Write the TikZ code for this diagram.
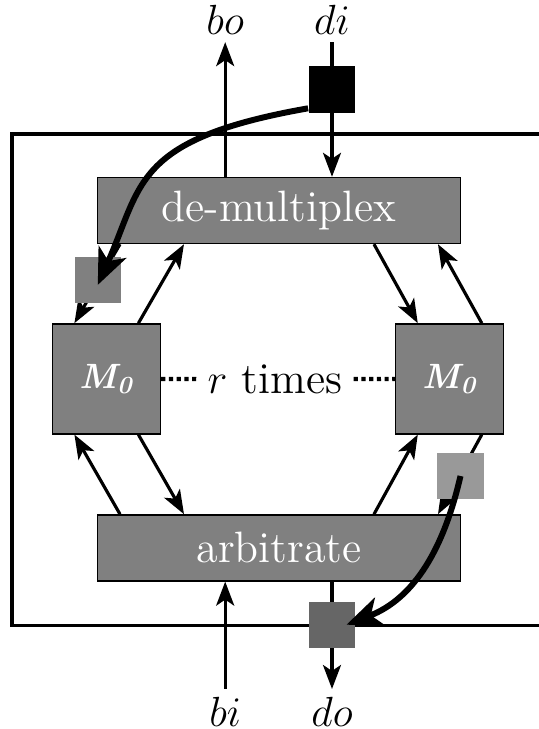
\documentclass[tikz,border=0pt]{standalone}
\usetikzlibrary{arrows.meta,calc,positioning}
\definecolor{blockFill}{HTML}{808080}
\definecolor{tokLight} {HTML}{999999}
\definecolor{tokDark}  {HTML}{666666}

\begin{document}
\begin{tikzpicture}[
        every node/.style={font=\fontsize{12.5}{15}\selectfont},
        blk/.style={draw=black, line width=0.4pt, fill=blockFill, text=white, minimum width=3.63cm, minimum height=0.66cm, inner sep=0pt},
        mod/.style={draw=black, line width=0.4pt, fill=blockFill, text=white, minimum width=1.08cm, minimum height=1.1cm, inner sep=0pt, font=\normalsize\bfseries\itshape},
        tok/.style={minimum size=0.464cm, inner sep=0pt},
        lbl/.style={inner sep=2pt, anchor=base, font=\fontsize{13}{15}\selectfont},
        ar/.style={-{Stealth[length=2.4mm, width=1.8mm, inset=0.6mm]}, line width=0.9pt},
        mv/.style={-{Stealth[length=3.6mm, width=3mm, inset=1mm]}, line width=1.7pt},
        dots/.style={line width=1.2pt, dash pattern=on 1.2pt off 1pt}
    ]
        \clip (0,0) rectangle (5.39,7.29);
        % frame
        \draw[line width=1pt] (5.6,5.95) -- (0.12,5.95) -- (0.12,1.036) -- (5.6,1.036);
        % blocks
        \node[blk] (dmx) at (2.79,5.185) {de-multiplex};
        \node[blk] (arb) at (2.79,1.811) {arbitrate};
        \node[mod] (mL) at (1.064,3.501) {M\textsubscript{0}};
        \node[mod] (mR) at (4.498,3.501) {M\textsubscript{0}};
        \node[inner sep=3pt] (rep) at (2.75,3.50) {$r$ times};
        \draw[dots] (mL.east) -- (rep.west);
        \draw[dots] (rep.east) -- (mR.west);
        % ports
        \node[lbl] (lbo) at (2.252,6.946) {$bo$};
        \node[lbl] (ldi) at (3.32,6.946) {$di$};
        \node[lbl] (lbi) at (2.252,0.03) {$bi$};
        \node[lbl] (ldo) at (3.32,0.03) {$do$};
        \draw[ar] (dmx.north -| lbo) -- (lbo.south);
        \draw[ar] (ldi.south) -- (dmx.north -| ldi);
        \draw[ar] (lbi.north) -- (arb.south -| lbi);
        \draw[ar] (arb.south -| ldo) -- (ldo.north);
        % links to the modules
        \draw[ar] ([xshift=-15.9mm]dmx.south) -- ([xshift=-3.2mm]mL.north);
        \draw[ar] ([xshift=3.2mm]mL.north) -- ([xshift=-9.5mm]dmx.south);
        \draw[ar] ([xshift=9.5mm]dmx.south) -- ([xshift=-3.2mm]mR.north);
        \draw[ar] ([xshift=3.2mm]mR.north) -- ([xshift=15.9mm]dmx.south);
        \draw[ar] ([xshift=-15.9mm]arb.north) -- ([xshift=-3.2mm]mL.south);
        \draw[ar] ([xshift=3.2mm]mL.south) -- ([xshift=-9.5mm]arb.north);
        \draw[ar] ([xshift=9.5mm]arb.north) -- ([xshift=-3.2mm]mR.south);
        \draw[ar] ([xshift=3.2mm]mR.south) -- ([xshift=15.9mm]arb.north);
        % tokens
        \node[tok, fill=black] (tIn) at (3.32,6.396) {};
        \node[tok, fill=blockFill] (tL) at (0.978,4.491) {};
        \node[tok, fill=tokLight] (tR) at (4.605,2.53) {};
        \node[tok, fill=tokDark] (tOut) at (3.32,1.043) {};
        \draw[mv] ([yshift=0.5mm]tIn.south west) to[out=190, in=66, out distance=1.78cm, in distance=1.1cm] ([yshift=-0.5mm]tL.center);
        \draw[mv] (tR.center) to[out=257, in=21] ([xshift=1.45mm]tOut.center);
    \end{tikzpicture}
\end{document}
